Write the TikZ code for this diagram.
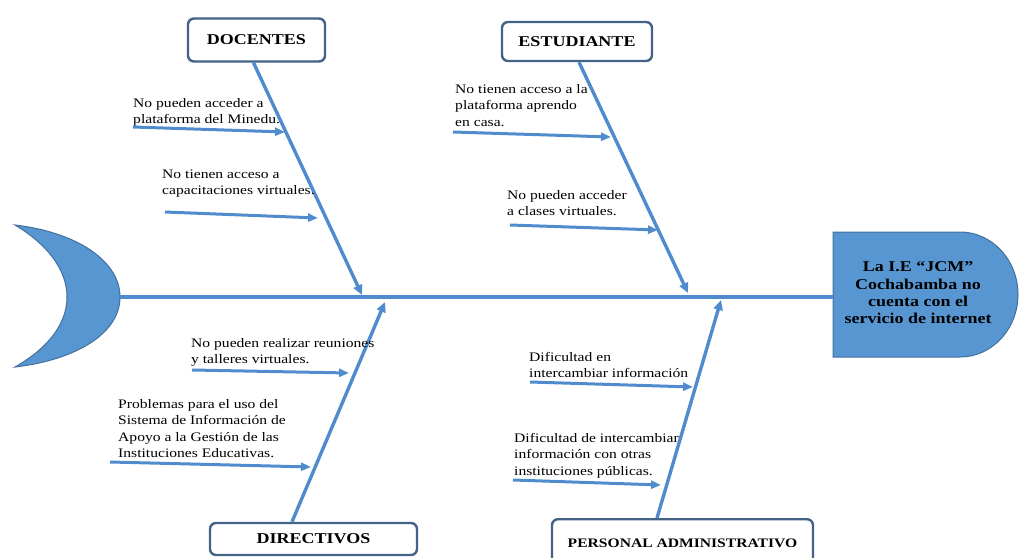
\documentclass[tikz,border=0pt]{standalone}
\usepackage{fontspec}
\setmainfont[FakeStretch=1.2]{Liberation Serif}
\usetikzlibrary{arrows.meta}

\definecolor{fishfill}{RGB}{88,150,210}
\definecolor{fishedge}{RGB}{66,112,158}
\definecolor{bone}{RGB}{80,140,205}
\definecolor{boxedge}{RGB}{68,98,136}

\tikzset{
  catbox/.style={draw=boxedge, line width=2.4pt, rounded corners=6pt, fill=white,
    font=\bfseries\fontsize{15}{17}\selectfont, inner sep=0pt},
  mainbone/.style={draw=bone, line width=4pt},
  branch/.style={draw=bone, line width=3.4pt, -{Triangle[length=10pt,width=9pt]}},
  cause/.style={draw=bone, line width=3pt, -{Triangle[length=10pt,width=8pt]}},
  % anchored at the baseline of the last line
  causetext/.style={anchor=base west, align=left, inner sep=0pt,
    font=\fontsize{13}{16.5}\selectfont},
}

\begin{document}
\begin{tikzpicture}[x=1pt,y=-1pt]
\clip (0,0) rectangle (1020,557);
\useasboundingbox (0,0) rectangle (1020,557);

% tail of the fish
\filldraw[fill=fishfill, draw=fishedge, line width=1pt]
  (15,225) .. controls (75,232) and (120,260) .. (120,297)
           .. controls (120,334) and (75,360) .. (15,367)
           .. controls (45,350) and (67,326) .. (67,297)
           .. controls (67,268) and (45,243) .. (15,225) -- cycle;
\coordinate (tail) at (120,297);

% head of the fish
\filldraw[fill=fishfill, draw=fishedge, line width=1pt]
  (833,232) -- (960,232)
  .. controls (992,232) and (1018,260) .. (1018,294.5)
  .. controls (1018,329) and (992,357) .. (960,357)
  -- (833,357) -- cycle;
\coordinate (neck) at (833,297);
\node[align=center, inner sep=0pt, font=\bfseries\fontsize{15}{17.3}\selectfont]
  (head) at (918,293) {La I.E “JCM”\\Cochabamba no\\cuenta con el\\servicio de internet};

% spine
\draw[mainbone] (tail) -- (neck);

% category boxes
\node[catbox, minimum width=137pt, minimum height=43pt] (doc) at (256.5,40) {DOCENTES};
\node[catbox, minimum width=150pt, minimum height=39pt] (est) at (577,41.5) {ESTUDIANTE};
\node[catbox, minimum width=207pt, minimum height=32pt] (dir) at (313.5,539) {DIRECTIVOS};
\node[catbox, minimum width=261pt, minimum height=60pt, anchor=north] (adm) at (682.5,518) {};
\node[font=\bfseries\fontsize{13}{15}\selectfont, inner sep=0pt] (admtxt) at (682.5,543)
  {PERSONAL ADMINISTRATIVO};

% points where the bones meet the spine
\coordinate (jdoc) at (362,295);
\coordinate (jest) at (688,293);
\coordinate (jdir) at (385,302);
\coordinate (jadm) at (721,300);

\draw[branch] ([xshift=-3pt]doc.south) -- (jdoc);
\draw[branch] ([xshift=2pt]est.south) -- (jest);
\draw[branch] ([xshift=-21.5pt]dir.north) -- (jdir);
\draw[branch] ([xshift=-25.5pt]adm.north) -- (jadm);

% causes: DOCENTES
\node[causetext] (c1) at (133,123.5) {No pueden acceder a\\plataforma del Minedu.};
\coordinate (c1s) at (133,127); \coordinate (c1e) at (285,132);
\draw[cause] (c1s) -- (c1e);
\node[causetext] (c2) at (162,194.5) {No tienen acceso a\\capacitaciones virtuales.};
\coordinate (c2s) at (165,212); \coordinate (c2e) at (318,218);
\draw[cause] (c2s) -- (c2e);

% causes: ESTUDIANTE
\node[causetext] (c3) at (455,126) {No tienen acceso a la\\plataforma aprendo\\en casa.};
\coordinate (c3s) at (453,132); \coordinate (c3e) at (611,137);
\draw[cause] (c3s) -- (c3e);
\node[causetext] (c4) at (507,215.5) {No pueden acceder\\a clases virtuales.};
\coordinate (c4s) at (510,225); \coordinate (c4e) at (658,230);
\draw[cause] (c4s) -- (c4e);

% causes: DIRECTIVOS
\node[causetext] (c5) at (191,363.5) {No pueden realizar reuniones\\y talleres virtuales.};
\coordinate (c5s) at (192,370); \coordinate (c5e) at (349,373);
\draw[cause] (c5s) -- (c5e);
\node[causetext] (c6) at (118,457.5) {Problemas para el uso del\\Sistema de Información de\\Apoyo a la Gestión de las\\Instituciones Educativas.};
\coordinate (c6s) at (110,462); \coordinate (c6e) at (311,467);
\draw[cause] (c6s) -- (c6e);

% causes: PERSONAL ADMINISTRATIVO
\node[causetext] (c7) at (529,377.5) {Dificultad en\\intercambiar información};
\coordinate (c7s) at (530,382); \coordinate (c7e) at (693,387);
\draw[cause] (c7s) -- (c7e);
\node[causetext] (c8) at (514,475) {Dificultad de intercambiar\\información con otras\\instituciones públicas.};
\coordinate (c8s) at (513,480); \coordinate (c8e) at (661,485);
\draw[cause] (c8s) -- (c8e);
\end{tikzpicture}
\end{document}
